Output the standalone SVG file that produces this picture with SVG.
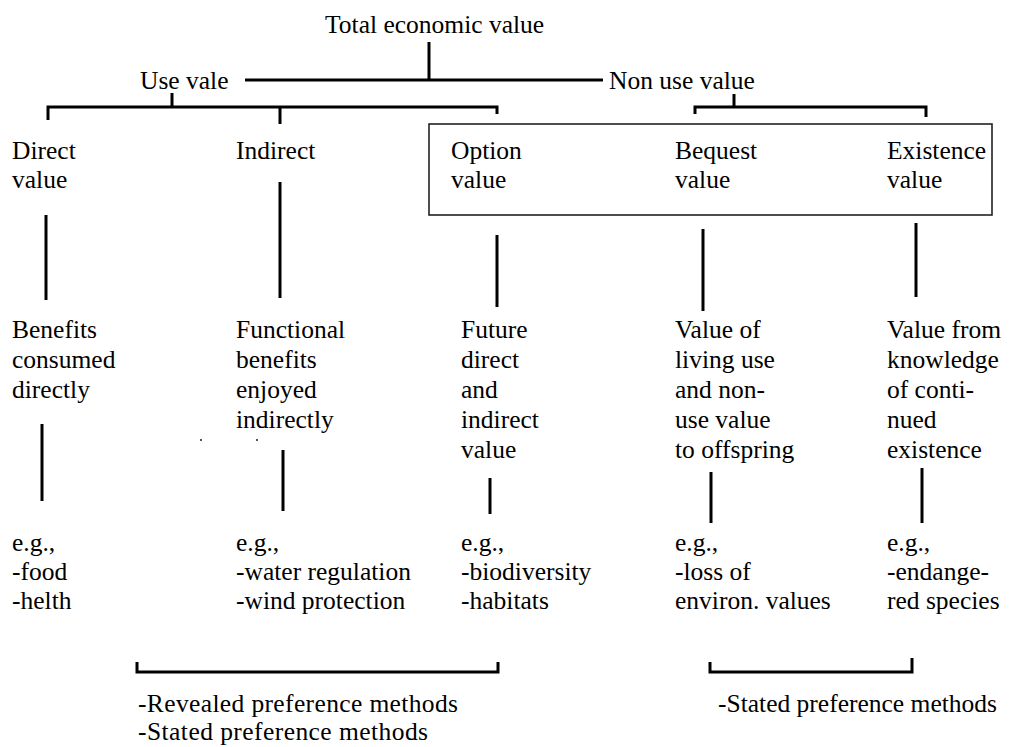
<svg xmlns="http://www.w3.org/2000/svg" width="1031" height="747" viewBox="0 0 1031 747">
<style>
text{font-family:"Liberation Serif","DejaVu Serif",serif;font-size:25.5px;fill:#000}
.c line{stroke:#000;stroke-width:3;stroke-linecap:butt}
.c polyline{fill:none;stroke:#000;stroke-width:3}
</style>
<rect width="1031" height="747" fill="#fff"/>
<g id="box"><rect x="429" y="124" width="563" height="91" fill="none" stroke="#222" stroke-width="1.6"/></g>
<g class="c" id="connectors">
<line x1="429" y1="42" x2="429" y2="80"/>
<line x1="245" y1="80" x2="603" y2="80"/>
<line x1="172" y1="93" x2="172" y2="107"/>
<polyline points="48,120 48,107 497,107 497,114"/>
<line x1="280" y1="107" x2="280" y2="124"/>
<line x1="734" y1="94" x2="734" y2="107"/>
<polyline points="695,114 695,107 926,107 926,117"/>
<line x1="46" y1="215" x2="46" y2="300"/>
<line x1="280" y1="182" x2="280" y2="298"/>
<line x1="497" y1="235" x2="497" y2="307"/>
<line x1="703" y1="229" x2="703" y2="311"/>
<line x1="916" y1="223" x2="916" y2="297"/>
<line x1="42" y1="424" x2="42" y2="501"/>
<line x1="283" y1="450" x2="283" y2="511"/>
<line x1="490" y1="478" x2="490" y2="514"/>
<line x1="711" y1="472" x2="711" y2="523"/>
<line x1="922" y1="468" x2="922" y2="523"/>
<polyline points="137,662 137,672 498,672 498,662"/>
<polyline points="710,662 710,672 912,672 912,658"/>
<circle cx="201" cy="440" r="0.9" fill="#000"/>
<circle cx="257" cy="440" r="0.9" fill="#000"/>
</g>
<g id="total"><text x="325" y="33">Total economic value</text></g>
<g id="use"><text x="140" y="89">Use vale</text></g>
<g id="nonuse"><text x="609" y="89">Non use value</text></g>
<g id="direct"><text x="12" y="159">Direct</text><text x="12" y="188">value</text></g>
<g id="indirect"><text x="236" y="159">Indirect</text></g>
<g id="option"><text x="451" y="159">Option</text><text x="451" y="188">value</text></g>
<g id="bequest"><text x="675" y="159">Bequest</text><text x="675" y="188">value</text></g>
<g id="existence"><text x="887" y="159">Existence</text><text x="887" y="188">value</text></g>
<g id="direct-desc"><text x="12" y="338">Benefits</text><text x="12" y="368">consumed</text><text x="12" y="398">directly</text></g>
<g id="indirect-desc"><text x="236" y="338">Functional</text><text x="236" y="368">benefits</text><text x="236" y="398">enjoyed</text><text x="236" y="428">indirectly</text></g>
<g id="option-desc"><text x="461" y="338">Future</text><text x="461" y="368">direct</text><text x="461" y="398">and</text><text x="461" y="428">indirect</text><text x="461" y="458">value</text></g>
<g id="bequest-desc"><text x="675" y="338">Value of</text><text x="675" y="368">living use</text><text x="675" y="398">and non-</text><text x="675" y="428">use value</text><text x="675" y="458">to offspring</text></g>
<g id="existence-desc"><text x="887" y="338">Value from</text><text x="887" y="368">knowledge</text><text x="887" y="398">of conti-</text><text x="887" y="428">nued</text><text x="887" y="458">existence</text></g>
<g id="direct-eg"><text x="12" y="551">e.g.,</text><text x="12" y="580">-food</text><text x="12" y="609">-helth</text></g>
<g id="indirect-eg"><text x="236" y="551">e.g.,</text><text x="236" y="580">-water regulation</text><text x="236" y="609">-wind protection</text></g>
<g id="option-eg"><text x="461" y="551">e.g.,</text><text x="461" y="580">-biodiversity</text><text x="461" y="609">-habitats</text></g>
<g id="bequest-eg"><text x="675" y="551">e.g.,</text><text x="675" y="580">-loss of</text><text x="675" y="609">environ. values</text></g>
<g id="existence-eg"><text x="887" y="551">e.g.,</text><text x="887" y="580">-endange-</text><text x="887" y="609">red species</text></g>
<g id="methods-left"><text x="138" y="712" textLength="320" lengthAdjust="spacing">-Revealed preference methods</text><text x="138" y="740" textLength="290" lengthAdjust="spacing">-Stated preference methods</text></g>
<g id="methods-right"><text x="718" y="712">-Stated preference methods</text></g>
</svg>
